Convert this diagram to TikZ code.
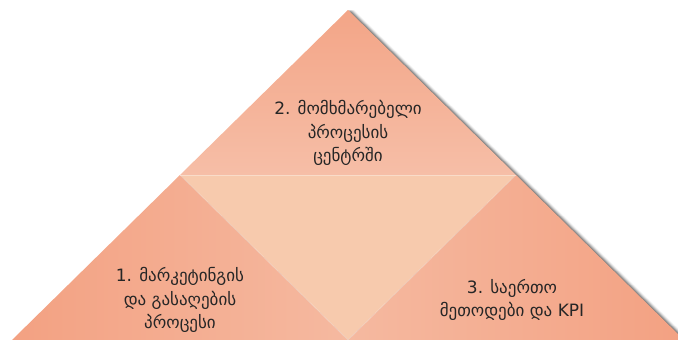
\documentclass[tikz,border=0pt]{standalone}
\usepackage{fontspec}
\newfontfamily\geofont[Script=Georgian]{DejaVu Sans}
\usetikzlibrary{calc}

\definecolor{peachapex}{HTML}{F3A587}
\definecolor{peachbase}{HTML}{F6BEA7}
\definecolor{peachmid}{HTML}{F7CAAD}
\definecolor{peachlight}{HTML}{F5B9A0}
\definecolor{peachdark}{HTML}{F3A182}
\definecolor{labeltext}{HTML}{262626}

\tikzset{
  steplabel/.style={font=\geofont\fontsize{17}{23.5}\selectfont, text=labeltext, align=center, inner sep=0pt},
  seam/.style={draw=white, draw opacity=0.35, line width=0.6pt}
}

\begin{document}
\begin{tikzpicture}[x=1pt,y=-1pt]
\useasboundingbox (0,0) rectangle (678,340);
\clip (0,0) rectangle (678,340);

% === CORNERS ===
\coordinate (apex) at (348,10);
\coordinate (midL) at (180,175);
\coordinate (midR) at (516,175);
\coordinate (botL) at (12,340);
\coordinate (botM) at (348,340);
\coordinate (botR) at (684,340);

% === SHADOW on the right edges ===
\foreach \d/\op in {1/0.16, 2/0.14, 3/0.12, 4/0.09, 5/0.06, 6/0.04} {
  \fill[black, opacity=\op] ($(apex)+(\d,0)$) -- ($(botR)+(\d,0)$) -- ($(botL)+(\d,0)$) -- cycle;
}

% === TRIANGLES ===
\shade[top color=peachapex, bottom color=peachbase] (apex) -- (midR) -- (midL) -- cycle;
\fill[peachmid] (midL) -- (midR) -- (botM) -- cycle;
\shade[shading angle=60, left color=peachdark, right color=peachlight] (midL) -- (botM) -- (botL) -- cycle;
\shade[shading angle=-60, left color=peachlight, right color=peachdark] (midR) -- (botR) -- (botM) -- cycle;
\draw[seam] (midL) -- (botM) -- (midR);
\draw[seam] (midL) -- (midR);

% === LABELS ===
\node[steplabel] (centre) at (348,133) {2. მომხმარებელი\\პროცესის\\ცენტრში};
\node[steplabel] (marketing) at (180,300) {1. მარკეტინგის\\და გასაღების\\პროცესი};
\node[steplabel] (methods) at (512,300) {3. საერთო\\მეთოდები და KPI};

\end{tikzpicture}
\end{document}
